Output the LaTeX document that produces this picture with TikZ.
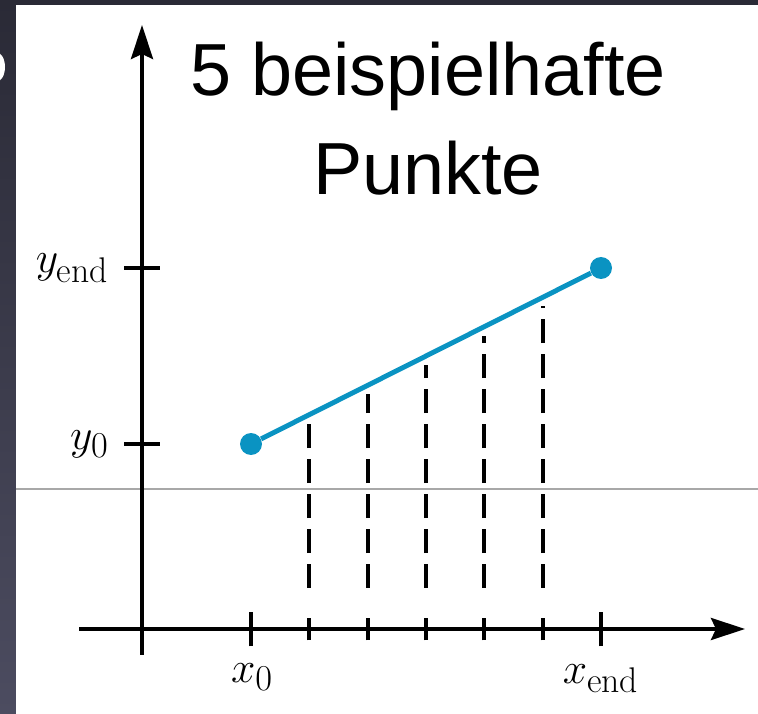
\documentclass[tikz,border=0pt]{standalone}
\usepackage{fontspec}
\usepackage{tikz}
\usetikzlibrary{arrows.meta,positioning,calc}
\newfontfamily\titlefont{Liberation Sans}
\definecolor{Slate}{HTML}{2A2A36}
\definecolor{SlateLow}{HTML}{4C4C60}
\definecolor{Teal}{HTML}{0A93C2}
\definecolor{Rule}{HTML}{A8A8A8}

\begin{document}
\begin{tikzpicture}[x=0.02cm,y=0.02cm,
  axis/.style={line width=2.3pt,-{Stealth[length=0.68cm,width=0.44cm,inset=0.1cm]}},
  tick/.style={line width=2.1pt},
  drop/.style={line width=2.1pt,dash pattern=on 0.48cm off 0.22cm},
  dot/.style={circle,fill=Teal,inner sep=0pt,minimum size=0.44cm},
  lab/.style={inner sep=0pt,font=\fontsize{29}{34}\selectfont}]
  \useasboundingbox (0,0) rectangle (758,714);
  \clip (0,0) rectangle (758,714);
  % slide frame
  \shade[top color=Slate,bottom color=SlateLow] (0,0) rectangle (758,714);
  \fill[white] (-4,647) ellipse [x radius=9,y radius=15];
  \fill[white] (16,0) rectangle (758,709);
  \draw[Rule,line width=0.6pt] (16,225) -- (758,225);

  \coordinate (ybot) at (142,59);
  \coordinate (ytop) at (142,689);
  \coordinate (xleft) at (79,85);
  \coordinate (xright) at (745,85);
  \draw[axis] (ybot) -- (ytop);
  \draw[axis] (xleft) -- (xright);

  \node[dot] (p0) at (251,270) {};
  \node[dot] (pend) at (601,446) {};

  % ticks on the y axis
  \draw[tick] (124,446) coordinate (yt1) -- (160,446);
  \draw[tick] (124,270) coordinate (yt0) -- (160,270);
  \node[lab,anchor=east] (yendlab) at ([xshift=-0.3cm]yt1) {$y_{\mathrm{end}}$};
  \node[lab,anchor=east] (y0lab) at ([xshift=-0.3cm]yt0) {$y_0$};

  % ticks on the x axis
  \path (p0 |- xleft) coordinate (xt0) (pend |- xleft) coordinate (xt6);
  \draw[tick] ([yshift=-0.35cm]xt0) -- ([yshift=0.35cm]xt0);
  \draw[tick] ([yshift=-0.35cm]xt6) -- ([yshift=0.35cm]xt6);
  \node[lab,anchor=north] (x0lab) at (252,51) {$x_0$};
  \node[lab,anchor=north] (xendlab) at (601,50) {$x_{\mathrm{end}}$};

  % the 5 sample points
  \foreach \k in {1,...,5} {
    \coordinate (s\k) at ($(p0)!\k/6!(pend)$);
    \path (s\k |- xleft) coordinate (t\k);
    \draw[tick] ([yshift=-0.23cm]t\k) -- ([yshift=0.23cm]t\k);
    \path (s\k |- 0,126) coordinate (f\k);
    \draw[drop] (f\k) -- ([yshift=-0.18cm]s\k);
  }

  \draw[Teal,line width=2.8pt] (p0) -- (pend);

  \node[anchor=north,align=center,inner sep=0pt,
    font=\titlefont\fontsize{42}{56}\selectfont] (title) at (428,672)
    {5 beispielhafte\\Punkte};
\end{tikzpicture}
\end{document}
